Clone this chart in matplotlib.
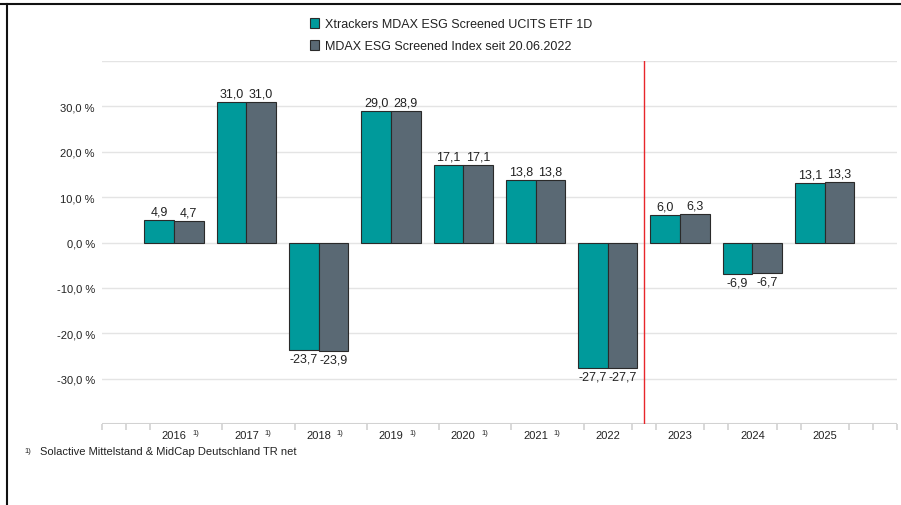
import matplotlib
matplotlib.use("Agg")
import matplotlib.pyplot as plt
from matplotlib.lines import Line2D
import numpy as np

plt.rcParams['font.family'] = ['Liberation Sans', 'DejaVu Sans']

years = ["2016", "2017", "2018", "2019", "2020", "2021", "2022", "2023", "2024", "2025"]
footnoted = [True, True, True, True, True, True, False, False, False, False]
etf = [4.9, 31.0, -23.7, 29.0, 17.1, 13.8, -27.7, 6.0, -6.9, 13.1]
index = [4.7, 31.0, -23.9, 28.9, 17.1, 13.8, -27.7, 6.3, -6.7, 13.3]
series_names = ["Xtrackers MDAX ESG Screened UCITS ETF 1D",
                "MDAX ESG Screened Index seit 20.06.2022"]
footnote_text = "Solactive Mittelstand & MidCap Deutschland TR net"
yticks = [-30, -20, -10, 0, 10, 20, 30]

TEAL = "#009a9b"
GRAY = "#5a6974"
EDGE = "#2a2a2a"
GRID = "#e4e4e4"
AXIS = "#d2d2d2"
TXT = "#222222"

fig = plt.figure(figsize=(9.01, 5.06), dpi=100)
ax = fig.add_axes([0.1129, 0.160, 0.8827, 0.7175])

x = np.arange(len(years))
w = 0.41
b1 = ax.bar(x - w / 2, etf, w, color=TEAL, edgecolor=EDGE, linewidth=0.8, zorder=3, label=series_names[0])
b2 = ax.bar(x + w / 2, index, w, color=GRAY, edgecolor=EDGE, linewidth=0.8, zorder=3, label=series_names[1])

fmt = lambda v: f"{v:.1f}".replace(".", ",")
ax.bar_label(b1, labels=[fmt(v) for v in etf], padding=2, fontsize=9, color=TXT)
ax.bar_label(b2, labels=[fmt(v) for v in index], padding=2, fontsize=9, color=TXT)

ax.set_xlim(-1, 10)
ax.set_ylim(-40, 40)

# gridlines
for yv in yticks + [40]:
    ax.axhline(yv, color=GRID, linewidth=1, zorder=1)
# bottom axis line
ax.axhline(-40, color=AXIS, linewidth=1.5, zorder=2)

for s in ax.spines.values():
    s.set_visible(False)

ax.set_yticks(yticks)
ax.set_yticklabels([f"{v:.1f}".replace(".", ",") + " %" for v in yticks], fontsize=8, color=TXT)
ax.tick_params(axis='y', length=0, pad=5)

# x ticks every 1/3 unit, hidden where labels sit
tick_pos = []
for t in np.arange(-1, 10.001, 1 / 3):
    near = False
    for i in range(len(years)):
        if abs(t - i) < 0.1 or (footnoted[i] and abs(t - (i + 1 / 3)) < 0.1):
            near = True
    if not near:
        tick_pos.append(t)
ax.set_xticks(tick_pos)
ax.set_xticklabels([])
ax.tick_params(axis='x', length=4, color=AXIS, width=1.2, direction='out')

# year labels
trans = ax.get_xaxis_transform()
for i, yr in enumerate(years):
    ax.text(i, -0.03, yr, transform=trans, ha='center', va='center', fontsize=8, color=TXT)
    if footnoted[i]:
        ax.text(i + 0.3, -0.023, "1)", transform=trans, ha='center', va='center', fontsize=5.5, color=TXT)

# red separator line
ax.axvline(6.5, color="#e8262b", linewidth=1, zorder=4)

# legend
fig.legend(handles=[b1, b2], loc='upper left', bbox_to_anchor=(0.337, 0.975), frameon=False,
           fontsize=9, handlelength=0.75, handleheight=0.9, handletextpad=0.45,
           labelspacing=0.75, borderpad=0, labelcolor=TXT)

# footnote
fig.text(0.027, 0.107, "1)", fontsize=5.5, color=TXT, va='center')
fig.text(0.044, 0.106, footnote_text, fontsize=8, color=TXT, va='center')

# frame lines (top and left)
fig.add_artist(Line2D([0.0, 1.0], [0.990, 0.990], transform=fig.transFigure, color="#111111", linewidth=1.5))
fig.add_artist(Line2D([0.0078, 0.0078], [0.0, 0.990], transform=fig.transFigure, color="#111111", linewidth=1.5))

fig.savefig("out.png", dpi=100)
